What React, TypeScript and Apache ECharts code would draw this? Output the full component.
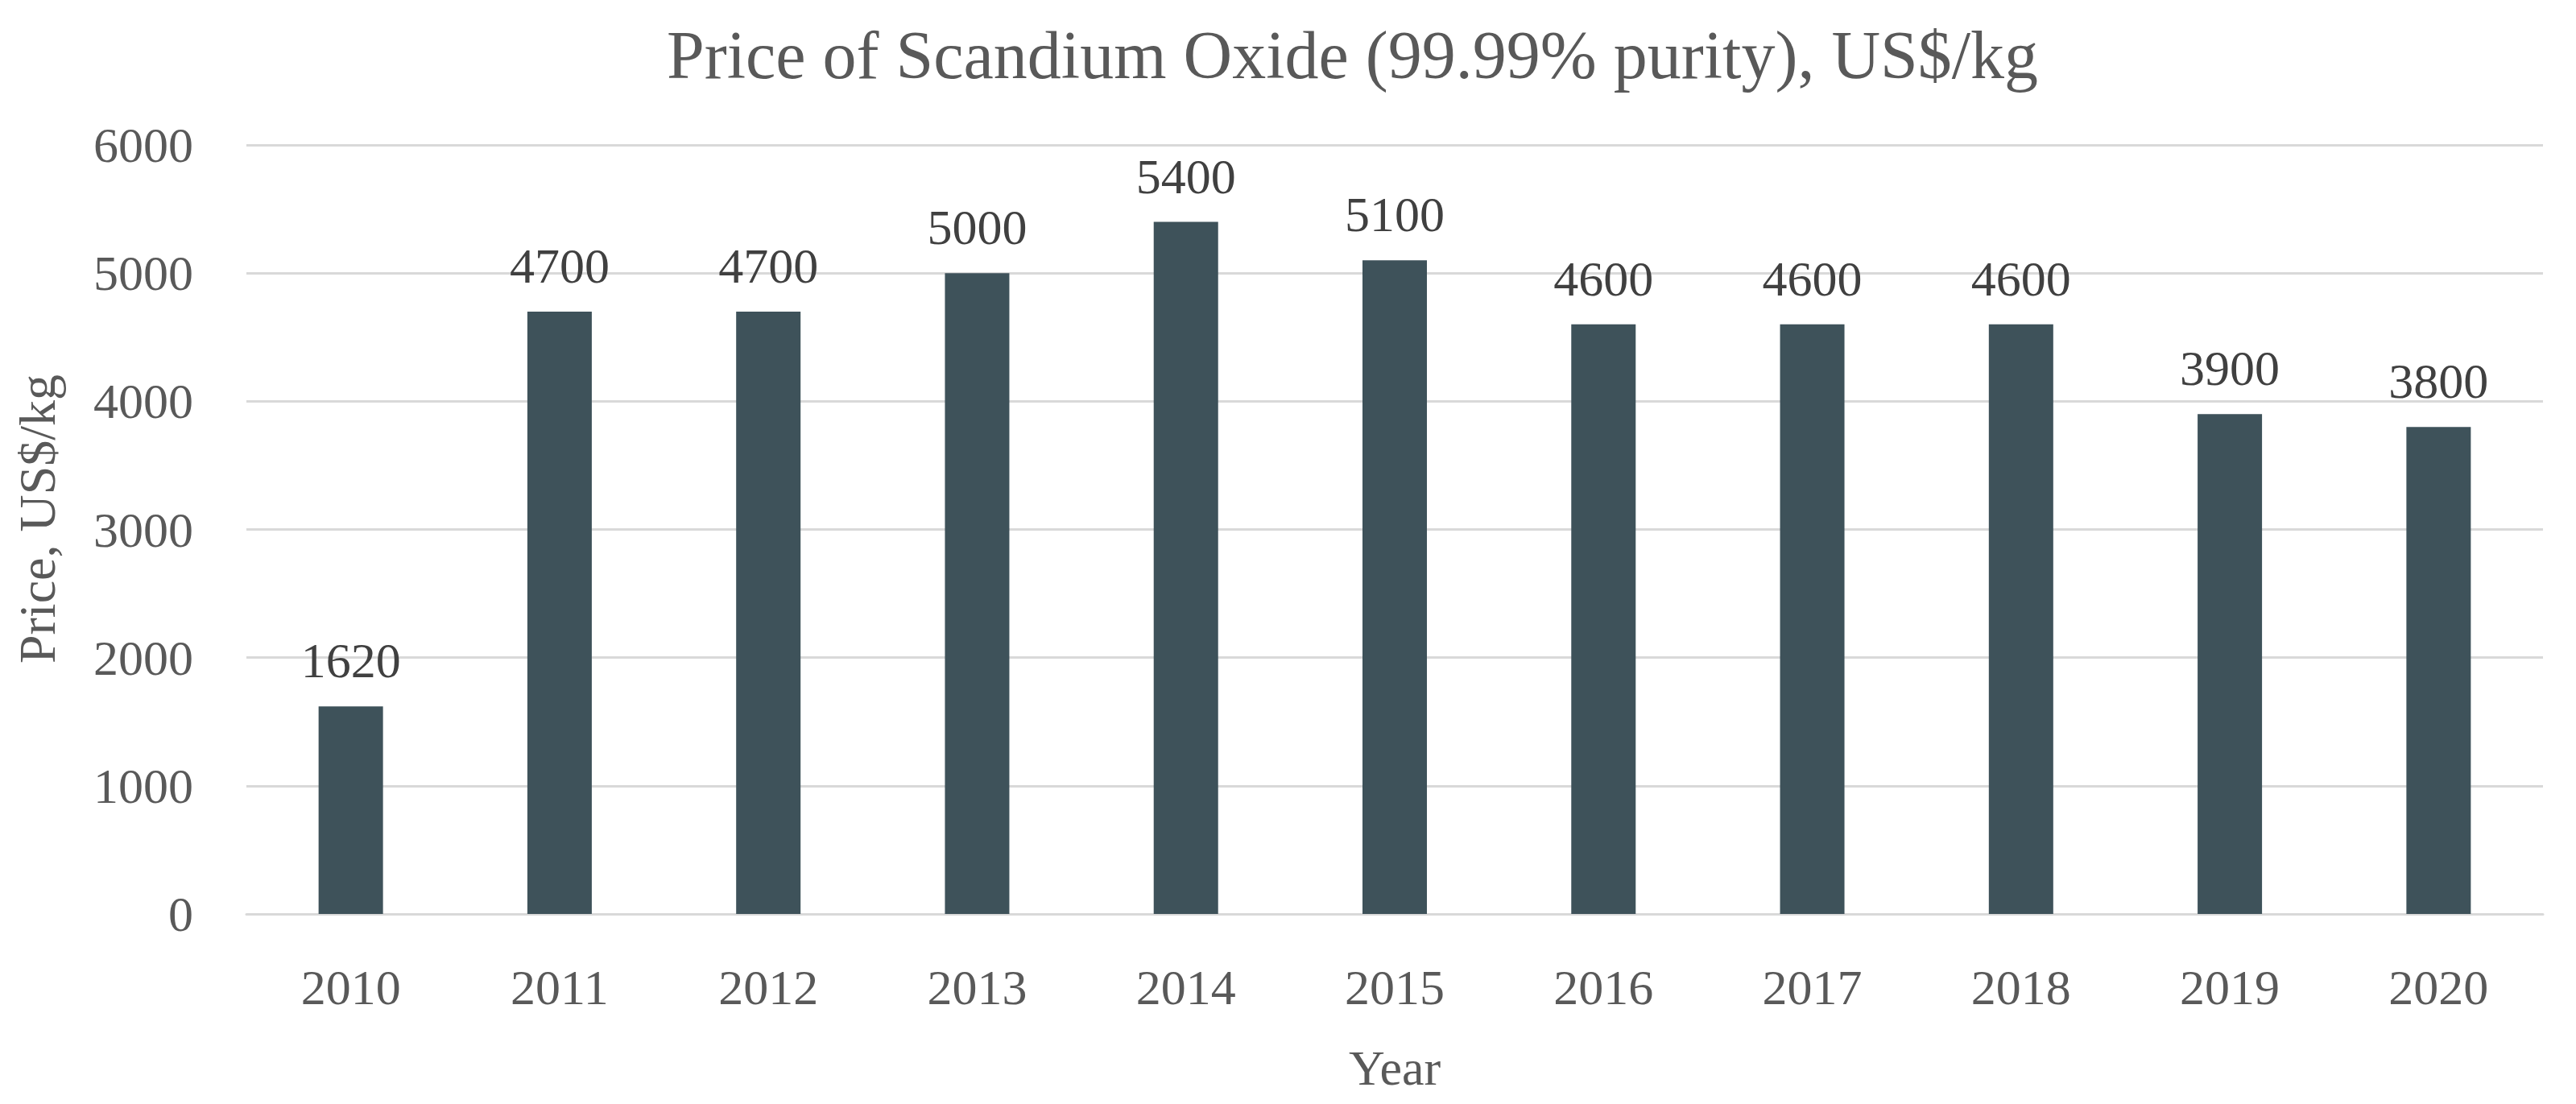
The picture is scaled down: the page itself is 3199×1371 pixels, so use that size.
import React, { useEffect, useRef } from "react";
import * as echarts from "echarts";

const years = ["2010", "2011", "2012", "2013", "2014", "2015", "2016", "2017", "2018", "2019", "2020"];
const prices = [1620, 4700, 4700, 5000, 5400, 5100, 4600, 4600, 4600, 3900, 3800];
const titleText = "Price of Scandium Oxide (99.99% purity), US$/kg";
const xName = "Year";
const yName = "Price, US$/kg";

const FONT = "'Liberation Serif', 'DejaVu Serif', serif";

export default function App() {
  const ref = useRef<HTMLDivElement>(null);
  useEffect(() => {
    document.body.style.margin = "0";
    const chart = echarts.init(ref.current!, null, { renderer: "svg" });
    chart.setOption({
      animation: false,
      backgroundColor: "#ffffff",
      title: {
        text: titleText,
        left: 828,
        top: 26,
        padding: 0,
        textStyle: { fontFamily: FONT, fontSize: 84, fontWeight: "normal", color: "#595959" },
      },
      grid: { left: 306, right: 41, top: 180, bottom: 236, containLabel: false },
      xAxis: {
        type: "category",
        data: years,
        name: xName,
        nameLocation: "middle",
        nameGap: 160,
        nameTextStyle: { fontFamily: FONT, fontSize: 62, color: "#595959" },
        axisLine: { show: true, lineStyle: { color: "#d9d9d9", width: 3 } },
        axisTick: { show: false },
        axisLabel: { fontFamily: FONT, fontSize: 62, color: "#595959", margin: 60 },
      },
      yAxis: {
        type: "value",
        min: 0,
        max: 6000,
        interval: 1000,
        name: yName,
        nameLocation: "middle",
        nameGap: 228,
        nameRotate: 90,
        nameTextStyle: { fontFamily: FONT, fontSize: 64, color: "#595959", padding: [0, 0, 0, 26] },
        axisLine: { show: false },
        axisTick: { show: false },
        axisLabel: {
          fontFamily: FONT,
          fontSize: 62,
          color: "#595959",
          margin: 66,
          formatter: (v: number) => String(v),
        },
        splitLine: { lineStyle: { color: "#d9d9d9", width: 3 } },
      },
      series: [
        {
          type: "bar",
          data: prices,
          barWidth: 80,
          itemStyle: { color: "#3e525a" },
          label: {
            show: true,
            position: "top",
            distance: 26,
            fontFamily: FONT,
            fontSize: 62,
            color: "#404040",
          },
        },
      ],
    });
    return () => chart.dispose();
  }, []);
  return <div ref={ref} style={{ width: 3199, height: 1371 }} />;
}
